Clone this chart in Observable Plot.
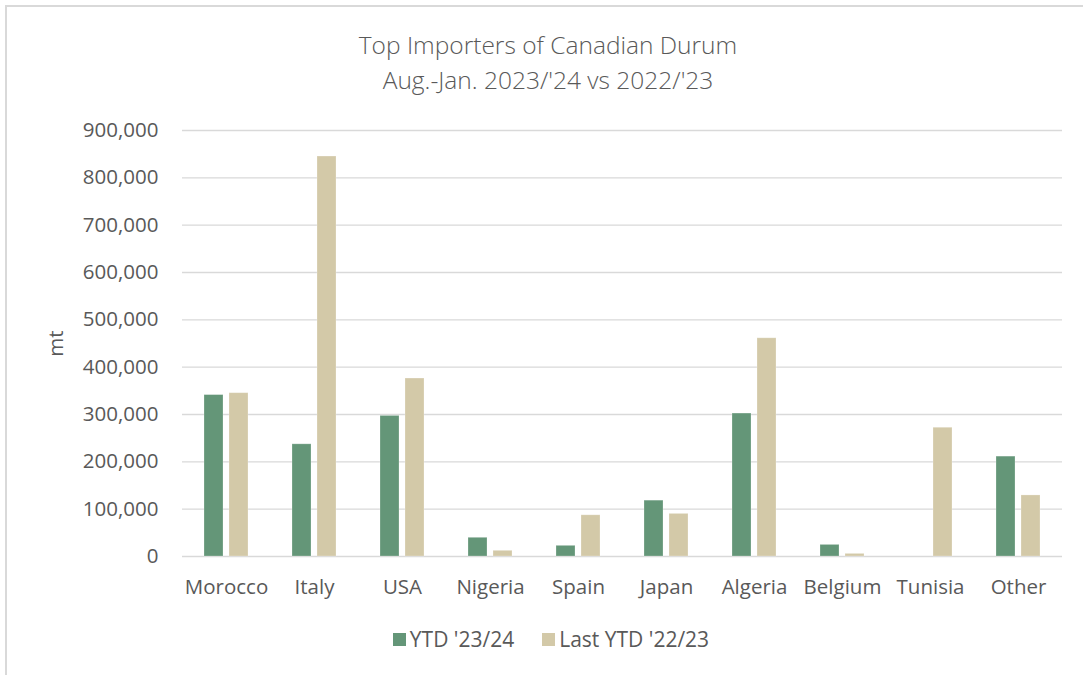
<!DOCTYPE html>
<html>
<head>
<meta charset="utf-8">
<script src="https://cdn.jsdelivr.net/npm/d3@7"></script>
<script src="https://cdn.jsdelivr.net/npm/@observablehq/plot@0.6"></script>
<style>
  html, body { margin: 0; padding: 0; background: #fff; }
  body { width: 1083px; height: 675px; position: relative; overflow: hidden; font-family: "Open Sans", "Liberation Sans", sans-serif; }
  #frame { position: absolute; left: 5px; top: 5px; width: 1100px; height: 700px; border-left: 2px solid #d9d9d9; border-top: 2px solid #d9d9d9; box-sizing: border-box; }
  #title { position: absolute; left: 0; width: 1096px; top: 27px; text-align: center; font-size: 24.5px; line-height: 35px; color: #595959; font-weight: 300; }
  #chart { position: absolute; left: 0; top: 0; }
  #legend { position: absolute; top: 625px; left: 0; width: 1102px; display: flex; justify-content: center; font-size: 21px; color: #595959; }
  .item { display: flex; align-items: center; margin: 0 14px; }
  .sw { width: 13px; height: 13px; margin-right: 4px; display: inline-block; }
</style>
</head>
<body>
<div id="frame"></div>
<div id="title">Top Importers of Canadian Durum<br>Aug.-Jan. 2023/'24 vs 2022/'23</div>
<div id="chart"></div>
<div id="legend"></div>
<script>
const countries = ["Morocco", "Italy", "USA", "Nigeria", "Spain", "Japan", "Algeria", "Belgium", "Tunisia", "Other"];
const seriesNames = ["YTD '23/24", "Last YTD '22/23"];
const ytd2324 = [341000, 237000, 297000, 39500, 22500, 118000, 302000, 24500, 0, 211000];
const ytd2223 = [345000, 845000, 376000, 12000, 87000, 90000, 461000, 5500, 272000, 129000];
const yTicks = [0, 100000, 200000, 300000, 400000, 500000, 600000, 700000, 800000, 900000];
const colors = ["#649678", "#d3c9a8"];

const data = [];
countries.forEach((c, i) => {
  data.push({country: c, series: seriesNames[0], value: ytd2324[i]});
  data.push({country: c, series: seriesNames[1], value: ytd2223[i]});
});

const chart = Plot.plot({
  width: 1083,
  height: 610,
  marginTop: 130,
  marginBottom: 54,
  marginLeft: 178,
  marginRight: 18,
  style: { fontFamily: '"Open Sans", "Liberation Sans", sans-serif', fontSize: "20.5px", color: "#595959", background: "transparent" },
  fx: { domain: countries, padding: 0, label: null },
  x: { domain: seriesNames, paddingInner: 0.25, paddingOuter: 0.85, axis: null },
  y: { domain: [0, 900000], label: null },
  color: { domain: seriesNames, range: colors },
  marks: [
    Plot.ruleY(yTicks, { stroke: "#d9d9d9", strokeWidth: 1.3 }),
    Plot.barY(data, { fx: "country", x: "series", y: "value", fill: "series", stroke: "#ffffff", strokeOpacity: 0.3, strokeWidth: 0.8 }),
    Plot.axisY({ ticks: yTicks, tickFormat: d3.format(","), tickSize: 0, tickPadding: 24, label: "mt", labelAnchor: "center", labelArrow: "none", labelOffset: 134, fontSize: 20.5 }),
    Plot.axisFx({ anchor: "bottom", tickSize: 0, tickPadding: 23, label: null, fontSize: 20.5 })
  ]
});
document.getElementById("chart").appendChild(chart);

const legend = document.getElementById("legend");
seriesNames.forEach((s, i) => {
  const item = document.createElement("div");
  item.className = "item";
  const sw = document.createElement("span");
  sw.className = "sw";
  sw.style.background = colors[i];
  item.appendChild(sw);
  item.appendChild(document.createTextNode(s));
  legend.appendChild(item);
});
</script>
</body>
</html>
